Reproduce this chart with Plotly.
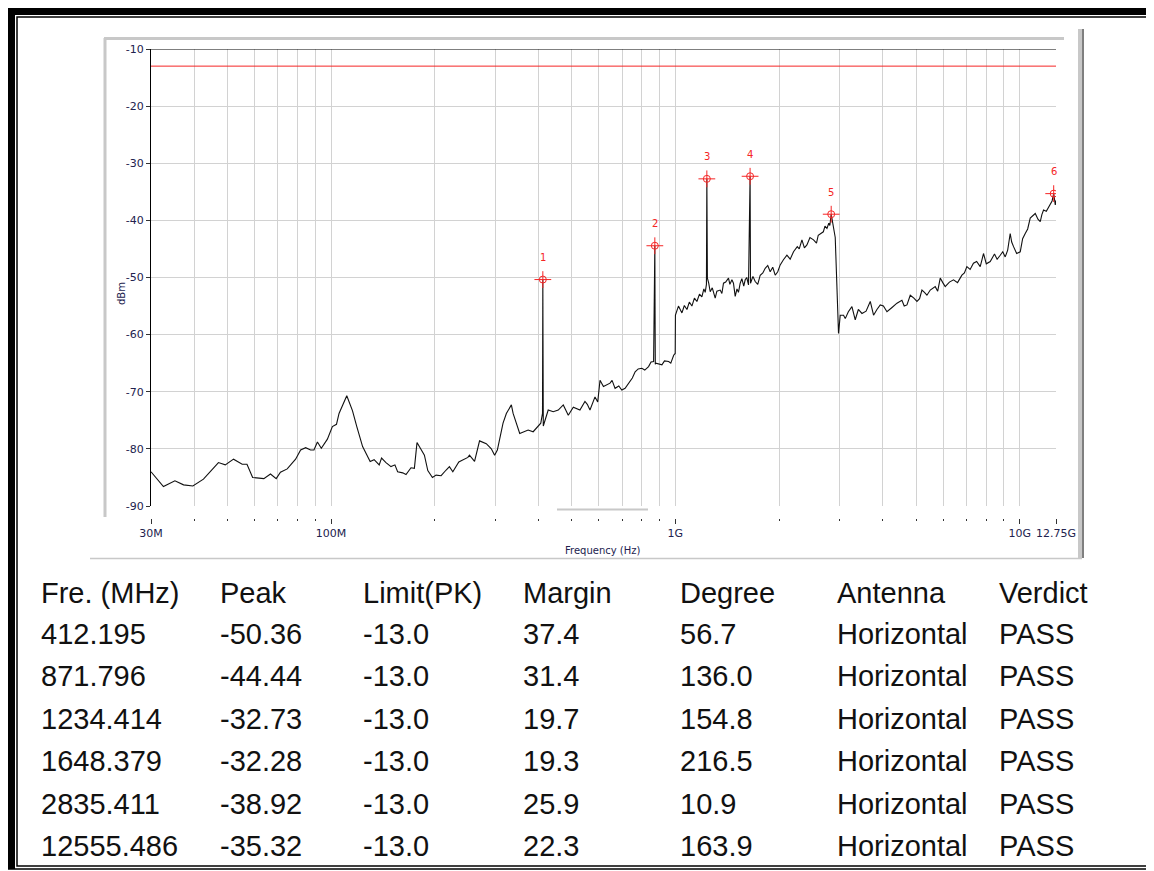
import math
import plotly.graph_objects as go

# the page body adds 8px; the figure is laid out in screen pixels minus that offset
OFF = 8
FW, FH = 1146, 863
TRACE = "#111111"
MARK = "#f52525"
GRID = "#d2d2d2"
PANEL = "#c8c8c8"
TICK_TXT = "#22224e"
FONT = "DejaVu Sans"
TABLE_FONT = "Liberation Sans"

# spectrum trace: (MHz, dBm)
trace_points = [
    (30.0, -84.0), (32.6, -86.6), (35.2, -85.6), (37.3, -86.3), (39.7, -86.5), (42.6, -85.3),
    (47.1, -82.4), (49.3, -82.8), (52.1, -81.8), (55.2, -82.7), (57.0, -82.7), (59.2, -85.0),
    (63.8, -85.2), (66.7, -84.4), (69.3, -85.2), (71.3, -84.1), (74.6, -83.5), (78.9, -81.8),
    (81.6, -80.2), (84.4, -79.8), (87.2, -80.2), (89.2, -80.2), (91.3, -78.8), (93.7, -79.9),
    (97.6, -78.3), (100.9, -76.1), (103.7, -75.7), (105.5, -73.8), (111.1, -70.7), (115.4, -73.3),
    (118.8, -76.1), (123.5, -79.6), (129.9, -82.2), (133.4, -81.9), (138.0, -82.8), (140.2, -81.6),
    (144.4, -82.4), (149.3, -83.1), (153.3, -82.8), (156.1, -84.0), (161.5, -84.2), (165.1, -84.5),
    (170.7, -83.3), (174.6, -83.4), (177.7, -78.9), (182.6, -80.2), (186.7, -81.1), (191.0, -83.8),
    (197.0, -85.0), (201.9, -84.6), (208.8, -84.7), (215.9, -83.7), (220.7, -83.1), (225.8, -84.0),
    (235.0, -82.3), (249.7, -81.5), (252.4, -81.1), (261.1, -82.2), (270.0, -78.6), (282.4, -79.1),
    (292.1, -80.0), (298.6, -81.1), (304.1, -80.2), (315.9, -75.5), (323.0, -73.8), (334.0, -72.3),
    (337.9, -73.8), (353.2, -77.3), (373.6, -76.7), (386.4, -77.0), (399.6, -76.1), (406.6, -75.5),
    (411.3, -73.8), (412.195, -50.36), (412.7, -61.0), (413.5, -76.0), (417.7, -75.0), (427.3, -73.2),
    (441.9, -73.5), (457.0, -73.2), (472.6, -72.3), (488.7, -74.1), (505.4, -72.7), (528.3, -73.2),
    (546.3, -71.7), (555.0, -72.2), (565.0, -73.2), (584.3, -70.9), (595.0, -71.8), (604.2, -68.0),
    (618.2, -69.1), (632.0, -68.8), (646.1, -68.5), (655.0, -68.0), (668.2, -69.4), (685.0, -69.0),
    (698.9, -69.7), (714.6, -69.4), (739.0, -68.0), (750.0, -67.6), (764.2, -66.5), (780.0, -66.0),
    (799.3, -65.9), (815.0, -66.2), (836.0, -65.6), (850.0, -64.8), (864.6, -64.7), (871.796, -44.44),
    (873.0, -55.0), (874.5, -65.2), (878.0, -65.0), (914.1, -65.3), (930.0, -64.6), (956.2, -64.7),
    (970.0, -65.0), (988.8, -63.6), (999.0, -63.3), (1000.5, -56.6), (1021, -55.0), (1045, -56.2),
    (1062, -54.9), (1080.6, -55.6), (1098, -54.3), (1117, -55.0), (1136, -53.6), (1155, -54.2),
    (1175, -52.9), (1194, -53.4), (1210, -52.0), (1221, -52.6), (1231, -51.2), (1234.414, -32.73),
    (1236.5, -41.5), (1239, -50.1), (1250, -51.0), (1262.4, -52.5), (1280, -51.8), (1305.3, -53.6),
    (1320, -52.4), (1349.7, -52.2), (1365, -52.8), (1379.8, -51.0), (1400, -50.8), (1426.8, -50.1),
    (1440, -51.2), (1459.6, -50.4), (1475, -51.0), (1492.1, -53.3), (1510, -52.0), (1525, -52.6),
    (1542.9, -51.0), (1560, -50.2), (1580, -51.5), (1595.3, -50.4), (1612, -50.0), (1631, -51.3),
    (1648.379, -32.28), (1650.5, -42.0), (1653, -51.0), (1680, -49.8), (1705.7, -50.7), (1735, -51.2),
    (1763.7, -49.6), (1795, -49.2), (1823.7, -48.4), (1855, -47.9), (1885.7, -49.0), (1918, -48.2),
    (1949.9, -49.6), (1983, -49.0), (2016.2, -47.8), (2060, -46.9), (2108.7, -46.1), (2155, -46.8),
    (2203.9, -45.5), (2260, -44.6), (2290, -45.0), (2331.4, -43.4), (2370, -44.8), (2410.6, -44.3),
    (2460, -43.0), (2519.4, -43.4), (2570, -44.0), (2600, -42.6), (2635, -42.3), (2690, -42.0),
    (2720, -41.0), (2755.8, -41.4), (2790, -40.5), (2810, -40.9), (2835.411, -38.92), (2913, -43.0),
    (2978, -59.8), (3012, -56.6), (3080, -56.6), (3115, -57.2), (3180, -56.0), (3257, -55.1),
    (3330, -57.4), (3400, -55.6), (3483, -56.3), (3580, -55.9), (3682, -54.2), (3764, -56.6),
    (3850, -55.6), (3936, -54.8), (4020, -55.0), (4117, -56.0), (4250, -55.3), (4402, -54.5),
    (4550, -54.0), (4620, -55.0), (4706, -54.8), (4811, -53.1), (4930, -53.6), (5031, -54.2),
    (5120, -53.7), (5202, -52.2), (5290, -52.6), (5378, -53.1), (5500, -52.2), (5685, -51.6),
    (5780, -52.4), (5879, -50.1), (5980, -50.9), (6078, -51.6), (6250, -50.8), (6425, -50.4),
    (6600, -50.9), (6795, -49.6), (6910, -49.2), (7025, -48.1), (7180, -48.6), (7341, -47.5),
    (7500, -47.2), (7681, -48.1), (7770, -46.9), (7852, -45.8), (8000, -47.6), (8213, -47.2),
    (8450, -45.9), (8600, -46.8), (8781, -46.1), (8930, -45.5), (9078, -46.4), (9230, -45.2),
    (9386, -42.3), (9480, -43.8), (9599, -44.6), (9800, -45.8), (10038, -45.5), (10200, -43.2),
    (10379, -42.3), (10550, -41.5), (10731, -39.6), (10900, -39.2), (11099, -38.8), (11300, -39.8),
    (11476, -40.2), (11600, -39.0), (11732, -38.2), (11950, -38.4), (12131, -37.6), (12300, -37.0),
    (12420, -36.6), (12555.486, -35.32), (12690, -37.3), (12750, -36.5),
]

# result table
col_headers = ["Fre. (MHz)", "Peak", "Limit(PK)", "Margin", "Degree", "Antenna", "Verdict"]
peak_freq_mhz = [412.195, 871.796, 1234.414, 1648.379, 2835.411, 12555.486]
peak_dbm = [-50.36, -44.44, -32.73, -32.28, -38.92, -35.32]
limit_dbm = [-13.0, -13.0, -13.0, -13.0, -13.0, -13.0]
margin_db = [37.4, 31.4, 19.7, 19.3, 25.9, 22.3]
degree = [56.7, 136.0, 154.8, 216.5, 10.9, 163.9]
antenna = ["Horizontal"] * 6
verdict = ["PASS"] * 6

y_ticks = [-90, -80, -70, -60, -50, -40, -30, -20, -10]
x_major = [30e6, 100e6, 1e9, 10e9, 12.75e9]
x_major_text = ["30M", "100M", "1G", "10G", "12.75G"]
x_minor = [m * d for d in (10e6, 100e6, 1e9) for m in range(2, 10) if 30e6 < m * d < 12.75e9]
x_grid = [30e6] + x_minor + [100e6, 1e9, 10e9, 12.75e9]
x_range_hz = [30e6, 12.75e9]


def px(x):
    return (x - OFF) / FW


def py(y):
    return 1 - (y - OFF) / FH


def build():
    log_range = [math.log10(x_range_hz[0]), math.log10(x_range_hz[1])]
    fig = go.Figure()
    fig.add_trace(go.Scatter(
        x=[f * 1e6 for f, _ in trace_points], y=[v for _, v in trace_points], mode="lines",
        line=dict(color=TRACE, width=1.1), hoverinfo="skip",
    ))
    # limit line, drawn on the tick axis so that axis is rendered
    fig.add_trace(go.Scatter(
        x=x_range_hz, y=[limit_dbm[0]] * 2, mode="lines", xaxis="x2",
        line=dict(color=MARK, width=1), hoverinfo="skip",
    ))
    peaks_hz = [f * 1e6 for f in peak_freq_mhz]
    fig.add_trace(go.Scatter(
        x=peaks_hz, y=peak_dbm, mode="markers",
        marker=dict(symbol="cross-thin-open", size=12, color=MARK,
                    line=dict(color=MARK, width=1)),
    ))
    fig.add_trace(go.Scatter(
        x=peaks_hz, y=peak_dbm, mode="markers",
        marker=dict(symbol="circle-open", size=7, color=MARK, line=dict(color=MARK, width=1)),
    ))
    for i, (f, v) in enumerate(zip(peaks_hz, peak_dbm), start=1):
        fig.add_annotation(x=math.log10(f), y=v, text=str(i), showarrow=False, yshift=22,
                           font=dict(family=FONT, size=10, color=MARK))

    fig.update_layout(
        width=FW, height=FH, margin=dict(l=0, r=0, t=0, b=0, autoexpand=False),
        paper_bgcolor="white", plot_bgcolor="white", showlegend=False,
        xaxis=dict(
            type="log", range=log_range, domain=[px(151), px(1056)],
            tickvals=x_grid, showticklabels=False, ticks="",
            showgrid=True, gridcolor=GRID, gridwidth=1, zeroline=False,
            showline=False, automargin=False,
        ),
        xaxis2=dict(
            type="log", overlaying="x", anchor="free", position=py(518), range=log_range,
            tickvals=x_major, ticktext=x_major_text, ticks="outside", ticklen=5,
            tickcolor="#333", showgrid=False, showline=False, zeroline=False,
            automargin=False,
            tickfont=dict(family=FONT, size=11, color=TICK_TXT),
            minor=dict(tickvals=x_minor, ticks="outside", ticklen=2, tickcolor="#333"),
        ),
        yaxis=dict(
            range=[-90, -10], tickvals=y_ticks, ticktext=[f"{v}" for v in y_ticks],
            domain=[py(506), py(49)], automargin=False,
            showgrid=True, gridcolor=GRID, gridwidth=1, zeroline=False,
            showline=True, linecolor="black", linewidth=1,
            ticks="outside", ticklen=4, tickcolor="#333",
            tickfont=dict(family=FONT, size=11, color=TICK_TXT),
        ),
    )

    # black top edge of plot
    fig.add_shape(type="line", xref="x domain", yref="y", x0=0, x1=1, y0=-10, y1=-10,
                  line=dict(color="black", width=1))

    # grey panel around the chart
    panel = [
        (104, 38.5, 1064, 38.5, 3), (105, 38, 105, 517, 3),
        (1080, 29, 1080, 558, 4), (90, 558.5, 1082, 558.5, 1.5),
        (557, 509.5, 648, 509.5, 2),
    ]
    for x0, y0, x1, y1, w in panel:
        fig.add_shape(type="line", xref="paper", yref="paper", x0=px(x0), x1=px(x1),
                      y0=py(y0), y1=py(y1), line=dict(color=PANEL, width=w))
    fig.add_shape(type="line", xref="paper", yref="paper", x0=px(1083), x1=px(1083),
                  y0=py(29), y1=py(558), line=dict(color="black", width=1))

    # page frame
    fig.add_shape(type="rect", xref="paper", yref="paper", x0=px(5), x1=px(1152),
                  y0=py(6), y1=py(15), fillcolor="black", line_width=0)
    fig.add_shape(type="rect", xref="paper", yref="paper", x0=px(5), x1=px(15),
                  y0=py(6), y1=py(869), fillcolor="black", line_width=0)
    fig.add_shape(type="rect", xref="paper", yref="paper", x0=px(5), x1=px(1151),
                  y0=py(6), y1=py(869), line=dict(color="black", width=1.5))
    fig.add_shape(type="rect", xref="paper", yref="paper", x0=px(17), x1=px(1147),
                  y0=py(17), y1=py(866), line=dict(color="black", width=1.5))

    # axis titles
    fig.add_annotation(xref="paper", yref="paper", x=px(114), y=py(280), text="dBm",
                       textangle=-90, showarrow=False,
                       font=dict(family=FONT, size=10, color=TICK_TXT))
    fig.add_annotation(xref="paper", yref="paper", x=px(603), y=py(550),
                       text="Frequency (Hz)", showarrow=False,
                       font=dict(family=FONT, size=10, color=TICK_TXT))

    # result table
    col_x = [39, 218, 361, 521, 678, 835, 997]
    row_y = [593, 634, 676, 719, 761, 804, 846]
    rows = [col_headers]
    for i in range(len(peak_freq_mhz)):
        rows.append([f"{peak_freq_mhz[i]:.3f}", f"{peak_dbm[i]:.2f}", f"{limit_dbm[i]:.1f}",
                     f"{margin_db[i]:.1f}", f"{degree[i]:.1f}", antenna[i], verdict[i]])
    for r, row in enumerate(rows):
        for c, txt in enumerate(row):
            fig.add_annotation(xref="paper", yref="paper", x=px(col_x[c]), y=py(row_y[r]),
                               text=txt, showarrow=False, xanchor="left", yanchor="middle",
                               font=dict(family=TABLE_FONT, size=29, color="#111111"))
    return fig


fig = build()
fig.write_html("out.html")
